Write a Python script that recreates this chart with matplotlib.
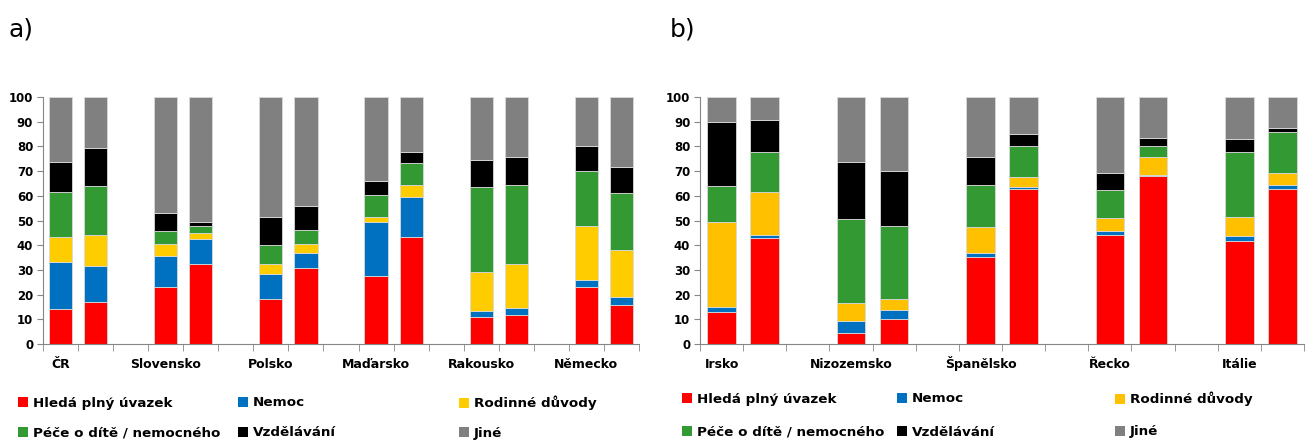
import numpy as np
import matplotlib
matplotlib.use('Agg')
from matplotlib import pyplot as plt

# legend labels and colours of the six reasons
reasons = ['Hledá plný úvazek', 'Nemoc', 'Rodinné důvody',
           'Péče o dítě / nemocného', 'Vzdělávání', 'Jiné']
colors_a = ['#FF0000', '#0070C0', '#FFCC00', '#339933', '#000000', '#808080']
colors_b = ['#FF0000', '#0070C0', '#FFC000', '#339933', '#000000', '#808080']

# a) two bars per country
countries_a = ['ČR', 'Slovensko', 'Polsko', 'Maďarsko', 'Rakousko', 'Německo']
hleda_a = [14.0, 16.9, 23.0, 32.3, 18.4, 30.9, 27.7, 43.5, 11.1, 11.6, 23.0, 15.8]
nemoc_a = [19.1, 14.5, 12.8, 10.3, 10.1, 6.1, 21.6, 16.1, 2.4, 3.1, 2.8, 3.4]
rodinne_a = [10.3, 12.7, 4.7, 2.3, 3.7, 3.3, 2.2, 4.9, 15.7, 17.7, 22.0, 19.0]
pece_a = [18.2, 19.7, 5.3, 2.7, 7.7, 5.9, 8.9, 8.6, 34.4, 32.1, 22.3, 22.9]
vzdelani_a = [11.9, 15.7, 7.3, 1.9, 11.5, 9.6, 5.4, 4.7, 10.9, 11.3, 10.2, 10.7]
jine_a = [26.5, 20.5, 46.9, 50.5, 48.6, 44.2, 34.2, 22.2, 25.5, 24.2, 19.7, 28.2]

# b)
countries_b = ['Irsko', 'Nizozemsko', 'Španělsko', 'Řecko', 'Itálie']
hleda_b = [13.0, 43.1, 4.3, 10.0, 35.3, 62.6, 44.1, 68.0, 41.5, 62.8]
nemoc_b = [2.0, 1.1, 5.2, 3.8, 1.6, 1.0, 1.7, 0.5, 2.1, 1.7]
rodinne_b = [34.5, 17.3, 7.0, 4.3, 10.5, 4.2, 5.1, 7.4, 8.0, 4.6]
pece_b = [14.4, 16.1, 34.2, 29.6, 16.9, 12.5, 11.4, 4.1, 26.2, 16.6]
vzdelani_b = [26.1, 13.2, 22.8, 22.2, 11.5, 4.7, 6.9, 3.6, 5.4, 1.7]
jine_b = [10.0, 9.2, 26.5, 30.1, 24.2, 15.0, 30.8, 16.4, 16.8, 12.6]

plt.rcParams['font.family'] = 'DejaVu Sans'
fig = plt.figure(figsize=(13.06, 4.41), dpi=100)
ax_a = fig.add_axes([0.0329, 0.22, 0.4564, 0.56])
ax_b = fig.add_axes([0.536, 0.22, 0.4625, 0.56])


def stacked(ax, countries, series, colors):
    n = len(countries)
    # bar pairs with one empty slot between countries
    x = np.array([3 * i + j for i in range(n) for j in range(2)])
    bottom = np.zeros(len(x))
    handles = []
    for vals, c in zip(series, colors):
        vals = np.array(vals)
        h = ax.bar(x, vals, bottom=bottom, width=0.66, color=c,
                   edgecolor='#d9d9d9', linewidth=0.6)
        handles.append(h)
        bottom += vals
    nslots = 3 * n - 1
    ax.set_xlim(-0.5, nslots - 0.5)
    ax.set_ylim(0, 100)
    ax.set_yticks(range(0, 101, 10))
    ax.set_xticks([3 * i for i in range(n)])
    ax.set_xticklabels(countries, fontsize=9, fontweight='bold')
    # baseline alignment so the accented labels sit on the same line
    for lab in ax.get_xticklabels():
        lab.set_verticalalignment('baseline')
    ax.set_xticks(np.arange(-0.5, nslots), minor=True)
    ax.tick_params(axis='x', which='major', length=0, pad=17)
    ax.tick_params(axis='x', which='minor', length=5, color='#868686')
    ax.tick_params(axis='y', length=4, color='#868686', labelsize=8.5, pad=3)
    for lab in ax.get_yticklabels():
        lab.set_fontweight('bold')
    for s in ['top', 'right']:
        ax.spines[s].set_visible(False)
    for s in ['left', 'bottom']:
        ax.spines[s].set_color('#868686')
    return handles


series_a = [hleda_a, nemoc_a, rodinne_a, pece_a, vzdelani_a, jine_a]
series_b = [hleda_b, nemoc_b, rodinne_b, pece_b, vzdelani_b, jine_b]
h_a = stacked(ax_a, countries_a, series_a, colors_a)
h_b = stacked(ax_b, countries_b, series_b, colors_b)

fig.text(8 / 1306, 1 - 30 / 441, 'a)', fontsize=18, va='center', ha='left')
fig.text(670 / 1306, 1 - 30 / 441, 'b)', fontsize=18, va='center', ha='left')


def legend_items(handles, xs, ys):
    # one small legend per item so rows and columns line up
    for k in range(6):
        xpos = xs[k % 3] / 1306
        ypos = 1 - ys[k // 3] / 441
        leg = fig.legend([handles[k]], [reasons[k]], loc='center left',
                         bbox_to_anchor=(xpos, ypos), frameon=False,
                         handlelength=0.75, handleheight=0.75,
                         handletextpad=0.35, borderpad=0, borderaxespad=0,
                         prop={'weight': 'bold', 'size': 9.7})
        for p in leg.legend_handles:
            p.set_edgecolor('none')


legend_items(h_a, [18, 238, 459], [403, 433])
legend_items(h_b, [682, 897, 1115], [399, 432])

fig.savefig('out.png', dpi=100)
